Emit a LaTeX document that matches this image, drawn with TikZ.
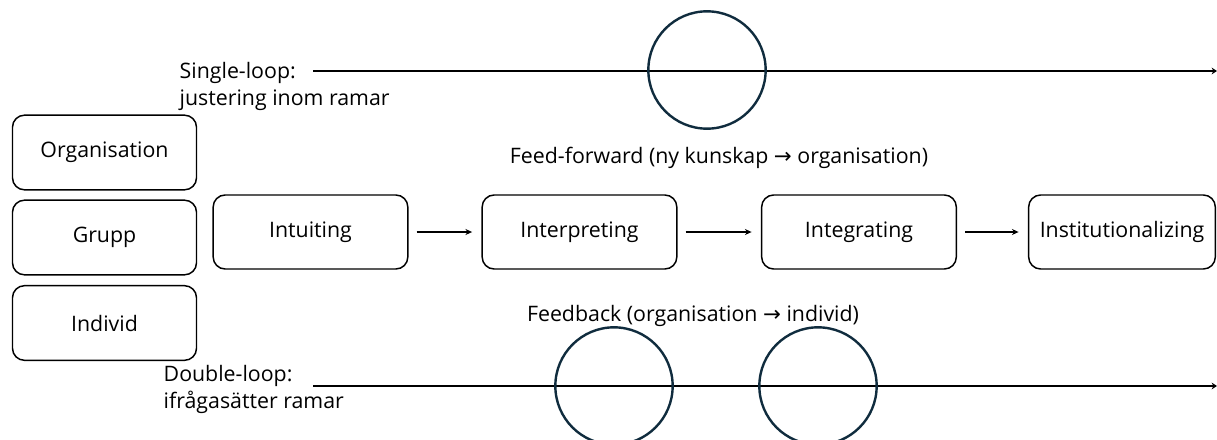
\documentclass[tikz,border=0pt]{standalone}
\usepackage{fontspec}
\setmainfont{Open Sans}
\newfontfamily\symfont{DejaVu Sans}
\usepackage{tikz}
\usetikzlibrary{arrows.meta,positioning,calc}
\definecolor{loopnavy}{RGB}{16,44,62}
\newcommand{\ra}{{\symfont\char"2192}}

\begin{document}
\begin{tikzpicture}[x=0.75pt, y=-0.75pt,
    every node/.style={font=\fontsize{16}{20}\selectfont},
    levelbox/.style={draw, line width=1.1pt, rounded corners=9pt,
        minimum width=138pt, minimum height=56pt},
    procbox/.style={draw, line width=1.1pt, rounded corners=9pt,
        minimum width=146pt, minimum height=55.5pt},
    flow/.style={-{Stealth[length=5pt,width=4.5pt]}, line width=1.1pt,
        shorten <=6pt, shorten >=7pt},
    loopline/.style={-{Stealth[length=4pt,width=5pt]}, line width=1.9pt},
    ring/.style={draw=loopnavy, line width=1.8pt, circle, minimum size=88pt}]
    \useasboundingbox (0,0) rectangle (1217,439);

    % Levels
    \node[levelbox] (org) at (104.5,152.5) {Organisation};
    \node[levelbox] (grp) at (104.5,237.5) {Grupp};
    \node[levelbox] (ind) at (104.5,323) {Individ};

    % 4I process
    \node[procbox] (intu) at (310.5,232) {Intuiting};
    \node[procbox] (interp) at (579.5,232) {Interpreting};
    \node[procbox] (integ) at (859,232) {Integrating};
    \node[procbox, minimum width=140pt] (inst) at (1122,232) {Institutionalizing};
    \draw[flow] (intu) -- (interp);
    \draw[flow] (interp) -- (integ);
    \draw[flow] (integ) -- (inst);

    % Flow labels
    \node (ff) at (719,158) {Feed-forward (ny kunskap \ra{} organisation)};
    \node (fb) at (693,316) {Feedback (organisation \ra{} individ)};

    % Single-loop
    \node[anchor=north west, align=left] (single) at (175,58)
        {Single-loop:\\justering inom ramar};
    \coordinate (sl0) at (313,71);
    \coordinate (sl1) at (1217,71);
    \draw[loopline] (sl0) -- (sl1);
    \node[ring] (ring1) at (707,70) {};

    % Double-loop
    \node[anchor=north west, align=left] (double) at (159,361)
        {Double-loop:\\ifrågasätter ramar};
    \coordinate (dl0) at (313,386);
    \coordinate (dl1) at (1217,386);
    \draw[loopline] (dl0) -- (dl1);
    \node[ring] (ring2) at (614,386) {};
    \node[ring] (ring3) at (818,386) {};
\end{tikzpicture}
\end{document}
